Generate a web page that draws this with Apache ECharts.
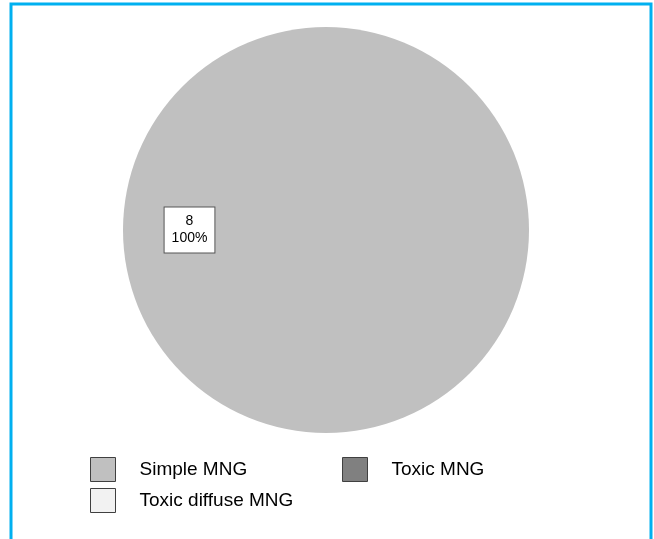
<!DOCTYPE html>
<html>
<head>
<meta charset="utf-8">
<script src="https://cdn.jsdelivr.net/npm/echarts@6/dist/echarts.min.js"></script>
<style>
  html, body { margin: 0; padding: 0; background: #fff; }
  #chart { width: 654px; height: 539px; }
</style>
</head>
<body>
<div id="chart"></div>
<script>
// data
var categories = ['Simple MNG', 'Toxic MNG', 'Toxic diffuse MNG'];
var counts = [8, 0, 0];
var colors = ['#c0c0c0', '#808080', '#f2f2f2'];

var chart = echarts.init(document.getElementById('chart'));

var pieData = categories.map(function (name, i) {
  return {
    name: name,
    value: counts[i],
    itemStyle: { color: colors[i] },
    label: { show: counts[i] > 0 }
  };
});

var option = {
  animation: false,
  textStyle: { fontFamily: 'Liberation Sans, Arial, sans-serif' },
  graphic: [{
    type: 'rect',
    shape: { x: 11, y: 4, width: 640, height: 560 },
    style: { fill: 'none', stroke: '#00b0f0', lineWidth: 3 },
    silent: true
  }],
  legend: [{
    data: [categories[0], categories[2]],
    orient: 'vertical',
    left: 85,
    top: 452,
    itemGap: 6,
    itemWidth: 25,
    itemHeight: 24,
    icon: 'rect',
    selectedMode: false,
    itemStyle: { borderColor: '#404040', borderWidth: 1 },
    textStyle: { fontSize: 19, color: '#000', padding: [0, 0, 0, 19] }
  }, {
    data: [categories[1]],
    orient: 'vertical',
    left: 337,
    top: 452,
    itemWidth: 25,
    itemHeight: 24,
    icon: 'rect',
    selectedMode: false,
    itemStyle: { borderColor: '#404040', borderWidth: 1 },
    textStyle: { fontSize: 19, color: '#000', padding: [0, 0, 0, 19] }
  }],
  series: [{
    type: 'pie',
    center: [326, 230],
    radius: 203,
    startAngle: 0,
    clockwise: true,
    silent: true,
    emphasis: { disabled: true },
    labelLine: { show: false },
    label: {
      position: 'inside',
      formatter: function (p) { return p.value + '\n' + Math.round(p.percent) + '%'; },
      color: '#000',
      fontSize: 14,
      lineHeight: 17,
      backgroundColor: '#fff',
      borderColor: '#555',
      borderWidth: 1,
      padding: [6, 7, 5, 7],
      align: 'center'
    },
    labelLayout: { dx: -32 },
    data: pieData
  }]
};

chart.setOption(option);
</script>
</body>
</html>
